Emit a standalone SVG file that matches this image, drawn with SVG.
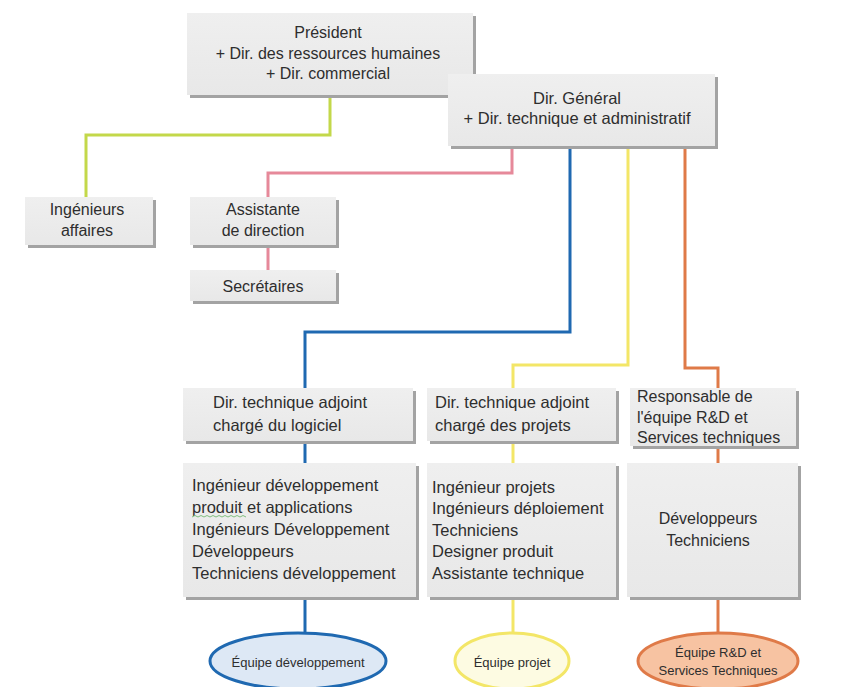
<svg xmlns="http://www.w3.org/2000/svg" width="848" height="687" viewBox="0 0 848 687">
<defs>
<linearGradient id="boxfill" x1="0" y1="0" x2="0" y2="1">
<stop offset="0" stop-color="#efefef"/>
<stop offset="1" stop-color="#e8e8e8"/>
</linearGradient>
</defs>
<style>
.sh{fill:#a3a3a3;}
.bx{fill:url(#boxfill);}
text{font-family:"Liberation Sans",Arial,sans-serif;fill:#2e2e2e;}
.t{font-size:16.5px;}
.s{font-size:16px;}
.c{text-anchor:middle;}
.e{font-size:13px;text-anchor:middle;}
.ln{fill:none;stroke-width:3;}
.lime{stroke:#c3d84a;}
.pink{stroke:#e6899a;}
.blue{stroke:#1f69b1;}
.yel{stroke:#f3e667;}
.org{stroke:#df7a48;}
</style>
<rect width="848" height="687" fill="#ffffff"/>
<g id="connectors">
<polyline class="ln lime" points="330,97 330,135 86,135 86,197"/>
<polyline class="ln pink" points="512,148 512,173 268,173 268,197"/>
<polyline class="ln pink" points="268,247 268,270"/>
<polyline class="ln blue" points="570,148 570,332 305,332 305,388"/>
<polyline class="ln blue" points="305,443 305,463"/>
<polyline class="ln blue" points="305,598 305,632"/>
<polyline class="ln yel" points="628,148 628,365 513,365 513,388"/>
<polyline class="ln yel" points="513,443 513,463"/>
<polyline class="ln yel" points="513,598 513,632"/>
<polyline class="ln org" points="685,148 685,368 718,368 718,388"/>
<polyline class="ln org" points="718,448 718,463"/>
<polyline class="ln org" points="718,598 718,632"/>
</g>
<g id="president">
<rect class="sh" x="190" y="16" width="286" height="82"/>
<rect class="bx" x="187" y="13" width="286" height="82"/>
<text class="s c" x="328" y="38">Président</text>
<text class="s c" x="328" y="59">+ Dir. des ressources humaines</text>
<text class="s c" x="328" y="79">+ Dir. commercial</text>
</g>
<g id="dirgeneral">
<rect class="sh" x="451" y="77" width="267" height="72"/>
<rect class="bx" x="448" y="74" width="267" height="72"/>
<text class="t c" x="577" y="104">Dir. Général</text>
<text class="t c" x="577" y="124">+ Dir. technique et administratif</text>
</g>
<g id="ingenieurs-affaires">
<rect class="sh" x="28" y="200" width="128" height="48"/>
<rect class="bx" x="25" y="197" width="128" height="48"/>
<text class="s c" x="87" y="215">Ingénieurs</text>
<text class="s c" x="87" y="236">affaires</text>
</g>
<g id="assistante">
<rect class="sh" x="193" y="200" width="146" height="48"/>
<rect class="bx" x="190" y="197" width="146" height="48"/>
<text class="s c" x="263" y="215">Assistante</text>
<text class="s c" x="263" y="236">de direction</text>
</g>
<g id="secretaires">
<rect class="sh" x="193" y="273" width="146" height="31"/>
<rect class="bx" x="190" y="270" width="146" height="31"/>
<text class="s c" x="263" y="292">Secrétaires</text>
</g>
<g id="dta-logiciel">
<rect class="sh" x="186" y="391" width="230" height="53"/>
<rect class="bx" x="183" y="388" width="230" height="53"/>
<text class="t" x="213" y="408">Dir. technique adjoint</text>
<text class="t" x="213" y="431">chargé du logiciel</text>
</g>
<g id="dta-projets">
<rect class="sh" x="430" y="391" width="189" height="53"/>
<rect class="bx" x="427" y="388" width="189" height="53"/>
<text class="t" x="435" y="408">Dir. technique adjoint</text>
<text class="t" x="435" y="431">chargé des projets</text>
</g>
<g id="resp-rd">
<rect class="sh" x="633" y="391" width="166" height="58"/>
<rect class="bx" x="630" y="388" width="166" height="58"/>
<text class="s" x="637" y="402">Responsable de</text>
<text class="s" x="637" y="423">l'équipe R&amp;D et</text>
<text class="s" x="637" y="443">Services techniques</text>
</g>
<g id="equipe-logiciel">
<rect class="sh" x="186" y="466" width="233" height="134"/>
<rect class="bx" x="183" y="463" width="233" height="134"/>
<text class="t" x="192" y="491">Ingénieur développement</text>
<text class="t" x="192" y="513">produit et applications</text>
<path d="M192,517 l3,-1.5 l3,1.5 l3,-1.5 l3,1.5 l3,-1.5 l3,1.5 l3,-1.5 l3,1.5 l3,-1.5 l3,1.5 l3,-1.5 l3,1.5 l3,-1.5 l3,1.5 l3,-1.5 l3,1.5 l3,-1.5 l3,1.5" fill="none" stroke="#7fbf7f" stroke-width="1"/>
<text class="t" x="192" y="535">Ingénieurs Développement</text>
<text class="t" x="192" y="557">Développeurs</text>
<text class="t" x="192" y="579">Techniciens développement</text>
</g>
<g id="equipe-projets">
<rect class="sh" x="430" y="466" width="189" height="134"/>
<rect class="bx" x="427" y="463" width="189" height="134"/>
<text class="t" x="432" y="493">Ingénieur projets</text>
<text class="t" x="432" y="514">Ingénieurs déploiement</text>
<text class="t" x="432" y="536">Techniciens</text>
<text class="t" x="432" y="557">Designer produit</text>
<text class="t" x="432" y="579">Assistante technique</text>
</g>
<g id="equipe-rd">
<rect class="sh" x="630" y="466" width="171" height="134"/>
<rect class="bx" x="627" y="463" width="171" height="134"/>
<text class="s c" x="708" y="524">Développeurs</text>
<text class="s c" x="708" y="546">Techniciens</text>
</g>
<g id="ellipse-dev">
<ellipse cx="298" cy="661" rx="88" ry="28" fill="#dde8f5" stroke="#1f69b1" stroke-width="3"/>
<text class="e" x="298" y="667">Équipe développement</text>
</g>
<g id="ellipse-projet">
<ellipse cx="512" cy="661" rx="57" ry="28" fill="#fdfbe2" stroke="#f3e667" stroke-width="3"/>
<text class="e" x="512" y="667">Équipe projet</text>
</g>
<g id="ellipse-rd">
<ellipse cx="718" cy="661" rx="80" ry="28" fill="#f7c3a2" stroke="#df7a48" stroke-width="3"/>
<text class="e" x="718" y="657">Équipe R&amp;D et</text>
<text class="e" x="718" y="675">Services Techniques</text>
</g>
</svg>
